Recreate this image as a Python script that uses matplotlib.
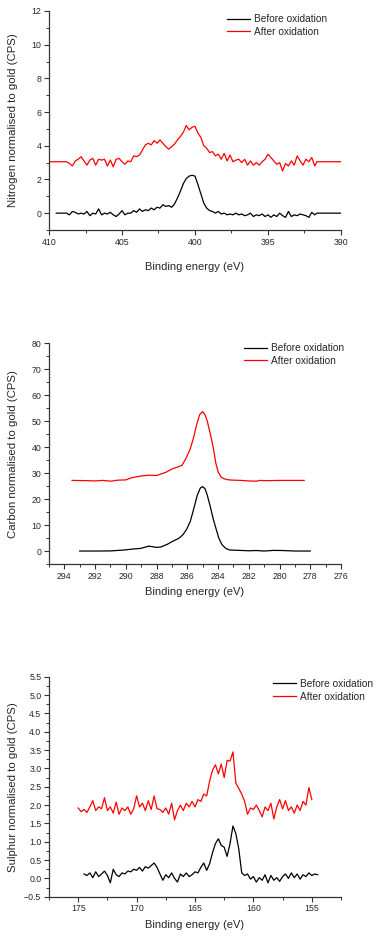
import numpy as np
import matplotlib
matplotlib.use("Agg")
from matplotlib import pyplot as plt
from matplotlib.ticker import MultipleLocator

plt.rcParams['font.family'] = ['Liberation Sans', 'DejaVu Sans']

# ---- Nitrogen (N 1s), scanned part 408.8 -> 391.8 eV, flat baseline at the ends
n_scan = (408.8, 391.8)
# (outer start, inner start, inner end, outer end, baseline)
n_before_pad = (409.5, 408.95, 391.65, 390.0, 0.0)
n_after_pad = (410.0, 408.95, 391.65, 390.0, 3.05)
n_before = [0.0, -0.1, 0.1, 0.05, -0.05, 0.0, -0.05, 0.1, -0.15, 0.0,
            -0.05, 0.25, -0.1, 0.0, -0.05, 0.05, -0.1, -0.2, -0.05, 0.15,
            -0.1, 0.0, 0.0, 0.15, 0.05, 0.25, 0.1, 0.2, 0.15, 0.3,
            0.2, 0.35, 0.3, 0.5, 0.4, 0.45, 0.35, 0.55, 0.9, 1.3,
            1.75, 2.05, 2.2, 2.25, 2.2, 1.7, 1.15, 0.6, 0.3, 0.15,
            0.1, 0.0, 0.1, -0.05, 0.0, -0.1, -0.05, -0.1, 0.0, -0.1,
            -0.05, -0.15, -0.1, 0.0, -0.2, -0.1, -0.15, -0.05, -0.2, -0.1,
            -0.25, -0.1, -0.2, 0.0, -0.15, -0.25, 0.1, -0.2, -0.1, -0.15,
            -0.05, -0.1, -0.15, -0.25, 0.05, -0.1]
n_after = [3.05, 2.95, 2.8, 3.1, 3.2, 3.35, 3.1, 2.85, 3.15, 3.25,
           2.85, 3.2, 3.15, 3.2, 2.8, 3.15, 2.75, 3.2, 3.25, 3.05,
           2.9, 3.1, 3.05, 3.4, 3.35, 3.45, 3.75, 4.05, 4.15, 4.05,
           4.3, 4.15, 4.35, 4.15, 3.95, 3.8, 3.95, 4.1, 4.35, 4.55,
           4.8, 5.2, 4.95, 5.1, 5.15, 4.75, 4.5, 4.0, 3.85, 3.6,
           3.65, 3.4, 3.5, 3.2, 3.55, 3.1, 3.45, 3.05, 3.15, 3.2,
           3.0, 3.2, 2.85, 3.1, 2.85, 3.0, 2.85, 3.05, 3.2, 3.5,
           3.3, 3.1, 2.9, 3.0, 2.5, 2.95, 2.8, 3.1, 2.85, 3.4,
           3.1, 2.85, 3.2, 3.05, 3.3, 2.8]

# ---- Carbon (C 1s)
c_before_E = [293.0, 292.0, 291.0, 290.1, 289.5, 289.05, 288.5, 288.0, 287.7, 287.3,
              287.0, 286.55, 286.3, 286.05, 285.8, 285.55, 285.35, 285.15, 285.0, 284.85,
              284.7, 284.5, 284.3, 284.15, 283.95, 283.75, 283.5, 283.25, 282.8, 282.0,
              281.5, 281.0, 280.4, 279.8, 279.0, 278.0]
c_before = [0.0, 0.0, 0.05, 0.4, 0.8, 1.0, 1.9, 1.4, 1.6, 2.6,
            3.6, 4.9, 6.2, 8.3, 11.5, 17.0, 21.5, 24.3, 24.8, 24.0,
            21.5, 17.0, 12.0, 9.0, 5.0, 2.5, 1.0, 0.4, 0.3, 0.1,
            0.2, 0.0, 0.25, 0.2, 0.0, 0.0]
c_after_E = [293.5, 292.5, 292.0, 291.5, 291.0, 290.5, 290.0, 289.7, 289.3, 288.9,
             288.5, 288.0, 287.75, 287.4, 287.0, 286.6, 286.35, 286.1, 285.8, 285.6,
             285.4, 285.2, 285.0, 284.85, 284.7, 284.5, 284.3, 284.15, 284.0, 283.8,
             283.6, 283.3, 283.0, 282.5, 282.0, 281.5, 281.3, 280.8, 280.0, 279.0,
             278.4]
c_after = [27.2, 27.1, 27.0, 27.2, 26.9, 27.3, 27.4, 28.1, 28.6, 29.0,
           29.2, 29.1, 29.6, 30.3, 31.6, 32.4, 33.0, 35.5, 39.5, 43.5,
           48.5, 52.5, 53.7, 52.5, 50.0, 45.0, 39.5, 34.0, 30.5, 28.5,
           27.8, 27.4, 27.3, 27.2, 27.0, 26.9, 27.2, 27.1, 27.2, 27.2,
           27.2]

# ---- Sulphur (S 2p), 0.25 eV steps
s_before_range = (174.5, 154.5)
s_after_range = (175.0, 155.0)
s_before = [0.12, 0.08, 0.15, 0.02, 0.18, 0.05, 0.12, 0.2, 0.08, -0.12,
            0.25, 0.1, 0.05, 0.15, 0.12, 0.2, 0.18, 0.25, 0.22, 0.3,
            0.2, 0.32, 0.28, 0.35, 0.42, 0.3, 0.12, -0.05, 0.1, 0.02,
            0.15, 0.0, -0.1, 0.12, 0.05, 0.15, 0.05, 0.1, 0.18, 0.15,
            0.3, 0.42, 0.22, 0.4, 0.7, 0.95, 1.08, 0.9, 0.85, 0.6,
            0.95, 1.43, 1.22, 0.8, 0.15, 0.08, 0.12, -0.02, 0.05, -0.1,
            0.02, -0.05, 0.1, -0.12, 0.08, -0.05, 0.02, -0.08, 0.05, 0.12,
            0.0, 0.15, 0.02, 0.12, -0.02, 0.1, 0.05, 0.15, 0.08, 0.12,
            0.1]
s_after = [1.92, 1.82, 1.88, 1.8, 1.95, 2.12, 1.85, 1.95, 1.9, 2.2,
           1.85, 1.95, 1.78, 2.08, 1.75, 1.92, 1.85, 1.95, 1.75, 1.9,
           2.25, 1.95, 2.05, 1.85, 2.12, 1.88, 2.25, 1.9, 1.88, 1.8,
           1.92, 1.75, 2.05, 1.6, 1.85, 2.0, 1.85, 2.05, 1.95, 2.1,
           1.95, 2.15, 2.1, 2.3, 2.25, 2.65, 2.95, 3.1, 2.85, 3.12,
           2.75, 3.22, 3.2, 3.45, 2.6, 2.45, 2.3, 2.1, 1.75, 1.92,
           1.88, 2.0, 1.85, 1.68, 1.95, 1.85, 2.05, 1.62, 1.95, 2.15,
           1.9, 2.12, 1.85, 1.95, 1.78, 2.0, 1.85, 2.1, 2.0, 2.48,
           2.15]

labels = ['Before oxidation', 'After oxidation']
text_col = '#262626'


def padded(vals, scan, pad):
    e = np.linspace(scan[0], scan[1], len(vals))
    x = np.concatenate([[pad[0], pad[1]], e, [pad[2], pad[3]]])
    y = np.concatenate([[pad[4], pad[4]], vals, [pad[4], pad[4]]])
    return x, y


def style(ax, xlim, ylim, xmaj, xmin, ymaj, ymin, ylabel, xlab_y, leg_x, leg_y):
    ax.set_xlim(*xlim)
    ax.set_ylim(*ylim)
    ax.xaxis.set_major_locator(MultipleLocator(xmaj))
    ax.xaxis.set_minor_locator(MultipleLocator(xmin))
    ax.yaxis.set_major_locator(MultipleLocator(ymaj))
    ax.yaxis.set_minor_locator(MultipleLocator(ymin))
    for s in ('top', 'right'):
        ax.spines[s].set_visible(False)
    for s in ('left', 'bottom'):
        ax.spines[s].set_color('#333333')
        ax.spines[s].set_linewidth(0.9)
    ax.tick_params(which='major', direction='out', length=3.5, width=0.8,
                   color='#333333', labelsize=6.3, labelcolor=text_col, pad=2)
    ax.tick_params(which='minor', direction='out', length=2, width=0.7, color='#333333')
    ax.set_xlabel('Binding energy (eV)', fontsize=8, color=text_col, va='center')
    ax.set_ylabel(ylabel, fontsize=8.2, color=text_col, va='center')
    ax.xaxis.set_label_coords(0.5, xlab_y)
    ax.yaxis.set_label_coords(-0.123, 0.5)
    ax.legend(labels, loc='upper left', bbox_to_anchor=(leg_x, leg_y), frameon=False,
              fontsize=7.3, handlelength=2.3, handletextpad=0.35, labelspacing=0.25,
              borderpad=0, borderaxespad=0, labelcolor=text_col)


fig = plt.figure(figsize=(3.79, 9.38), dpi=100)
ax1 = fig.add_axes([0.1293, 0.7548, 0.7704, 0.2335])
ax2 = fig.add_axes([0.1293, 0.3987, 0.7704, 0.2353])
ax3 = fig.add_axes([0.1293, 0.0440, 0.7704, 0.2345])

x, y = padded(n_before, n_scan, n_before_pad)
ax1.plot(x, y, color='black', lw=0.9)
x, y = padded(n_after, n_scan, n_after_pad)
ax1.plot(x, y, color='#ff0000', lw=0.9)
style(ax1, (410, 390), (-1, 12), 5, 2.5, 2, 1,
      'Nitrogen normalised to gold (CPS)', -0.168, 0.61, 0.985)

ax2.plot(c_before_E, c_before, color='black', lw=0.9)
ax2.plot(c_after_E, c_after, color='#ff0000', lw=0.9)
style(ax2, (295, 276), (-5, 80), 2, 1, 10, 5,
      'Carbon normalised to gold (CPS)', -0.127, 0.668, 1.0)

ax3.plot(np.linspace(*s_before_range, len(s_before)), s_before, color='black', lw=0.9)
ax3.plot(np.linspace(*s_after_range, len(s_after)), s_after, color='#ff0000', lw=0.9)
style(ax3, (177.5, 152.5), (-0.5, 5.5), 5, 2.5, 0.5, 0.25,
      'Sulphur normalised to gold (CPS)', -0.129, 0.767, 0.99)

fig.savefig('out.png', dpi=100)
